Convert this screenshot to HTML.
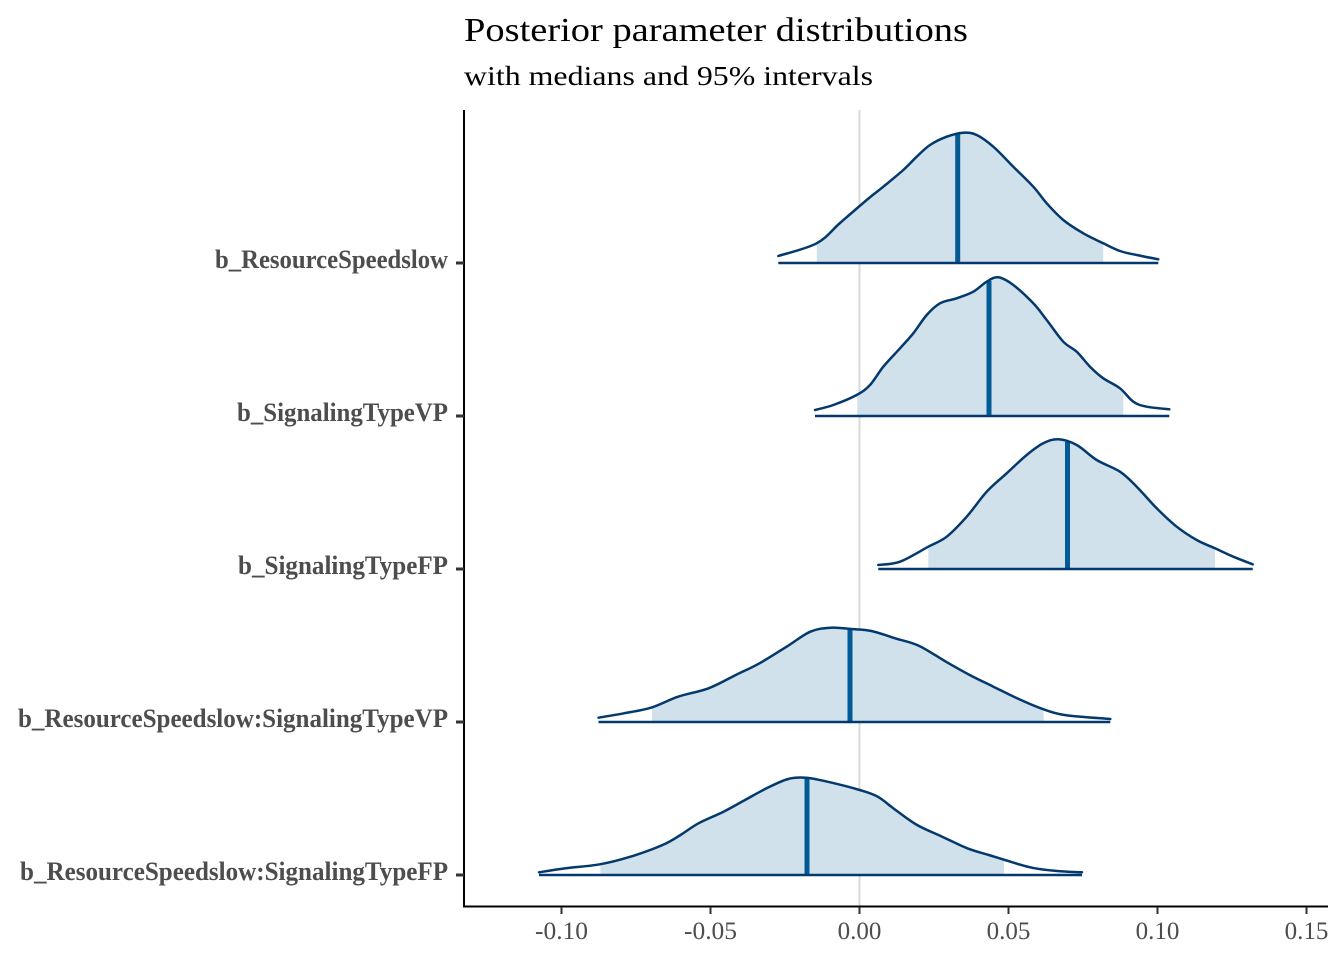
<!DOCTYPE html>
<html>
<head>
<meta charset="utf-8">
<style>
  html,body{margin:0;padding:0;background:#fff;}
  svg{display:block;}
  text{font-family:"Liberation Serif","Times New Roman",serif;}
</style>
</head>
<body>
<svg id="chart" width="1344" height="960" viewBox="0 0 1344 960" xmlns="http://www.w3.org/2000/svg">
  <rect width="1344" height="960" fill="#fff"/>
  <defs>
    <clipPath id="c1"><rect x="816.7" y="100" width="286.6" height="170"/></clipPath>
    <clipPath id="c2"><rect x="857.3" y="260" width="266" height="160"/></clipPath>
    <clipPath id="c3"><rect x="928.3" y="420" width="286.7" height="155"/></clipPath>
    <clipPath id="c4"><rect x="652" y="600" width="391.6" height="125"/></clipPath>
    <clipPath id="c5"><rect x="600.5" y="760" width="403.5" height="118"/></clipPath>
  </defs>

  <!-- Title -->
  <text x="464" y="41" font-size="34" fill="#000" textLength="504" lengthAdjust="spacingAndGlyphs">Posterior parameter distributions</text>
  <text x="464" y="85" font-size="27" fill="#000" textLength="409" lengthAdjust="spacingAndGlyphs">with medians and 95% intervals</text>

  <!-- zero reference line -->
  <line x1="859.5" y1="110" x2="859.5" y2="906" stroke="#d9d9d9" stroke-width="2"/>

  <!-- Row 1 -->
  <polygon class="densfill" clip-path="url(#c1)" fill="#d1e1ec" points="778.3,263 778.3,256 816.7,243.3 840,223 866.7,200 883.3,186.7 903.3,170 916.7,156.7 930,145 946.7,136.7 963.3,132.7 976.7,135 993.3,146.7 1013.3,166.7 1033.3,186.7 1046.7,203.3 1063.3,220 1083.3,233.3 1103.3,243.3 1120,251 1136.7,255 1158.3,259.3 1158.3,263"/>
  <line x1="957.7" y1="263" x2="957.7" y2="134" stroke="#005b96" stroke-width="5"/>
  <polyline class="dens" fill="none" stroke="#03396c" stroke-width="2.5" stroke-linejoin="round" stroke-linecap="round" points="778.3,256 816.7,243.3 840,223 866.7,200 883.3,186.7 903.3,170 916.7,156.7 930,145 946.7,136.7 963.3,132.7 976.7,135 993.3,146.7 1013.3,166.7 1033.3,186.7 1046.7,203.3 1063.3,220 1083.3,233.3 1103.3,243.3 1120,251 1136.7,255 1158.3,259.3"/>
  <line x1="778.3" y1="263" x2="1158.3" y2="263" stroke="#03396c" stroke-width="2.5"/>

  <!-- Row 2 -->
  <polygon class="densfill" clip-path="url(#c2)" fill="#d1e1ec" points="815,416 815,410 833.3,405 856.7,395 870,385 883.3,366.7 900,348.3 913.3,333.3 926.7,315 940,303.3 956.7,298.3 973.3,291.7 986.7,281.7 998.3,277.3 1013.3,285 1033.3,303.3 1046.7,320 1063.3,341.7 1076.7,351.7 1090,366.7 1103.3,378.3 1120,388.3 1133.3,401.7 1146.7,406.7 1169.3,409.3 1169.3,416"/>
  <line x1="989" y1="416" x2="989" y2="281" stroke="#005b96" stroke-width="5"/>
  <polyline class="dens" fill="none" stroke="#03396c" stroke-width="2.5" stroke-linejoin="round" stroke-linecap="round" points="815,410 833.3,405 856.7,395 870,385 883.3,366.7 900,348.3 913.3,333.3 926.7,315 940,303.3 956.7,298.3 973.3,291.7 986.7,281.7 998.3,277.3 1013.3,285 1033.3,303.3 1046.7,320 1063.3,341.7 1076.7,351.7 1090,366.7 1103.3,378.3 1120,388.3 1133.3,401.7 1146.7,406.7 1169.3,409.3"/>
  <line x1="815" y1="416" x2="1169.3" y2="416" stroke="#03396c" stroke-width="2.5"/>

  <!-- Row 3 -->
  <polygon class="densfill" clip-path="url(#c3)" fill="#d1e1ec" points="878.3,569 878.3,565 900,561.7 928.3,546.7 946.7,536.7 966.7,516.7 986.7,491.7 1006.7,473.3 1026.7,455 1043.3,443.3 1058.3,439.3 1076.7,445 1096.7,460 1120,471.7 1136.7,486.7 1156.7,508.3 1176.7,526.7 1196.7,540 1215,548.3 1233.3,556.7 1252.7,564.3 1252.7,569"/>
  <line x1="1067.5" y1="569" x2="1067.5" y2="442" stroke="#005b96" stroke-width="5"/>
  <polyline class="dens" fill="none" stroke="#03396c" stroke-width="2.5" stroke-linejoin="round" stroke-linecap="round" points="878.3,565 900,561.7 928.3,546.7 946.7,536.7 966.7,516.7 986.7,491.7 1006.7,473.3 1026.7,455 1043.3,443.3 1058.3,439.3 1076.7,445 1096.7,460 1120,471.7 1136.7,486.7 1156.7,508.3 1176.7,526.7 1196.7,540 1215,548.3 1233.3,556.7 1252.7,564.3"/>
  <line x1="878.3" y1="569" x2="1252.7" y2="569" stroke="#03396c" stroke-width="2.5"/>

  <!-- Row 4 -->
  <polygon class="densfill" clip-path="url(#c4)" fill="#d1e1ec" points="598.5,722 598.5,717.7 623.9,713.3 651,707.7 678.1,696.7 708.6,688.3 735.8,675 759.5,663.3 786.6,646.7 810.3,631.7 830.7,627.7 851,629 871.4,631 895.1,638.3 918.8,645.7 945.9,661.7 969.7,675 993.4,686.7 1017.1,698.3 1040.8,708.3 1064.6,715 1110.3,719 1110.3,722"/>
  <line x1="850" y1="722" x2="850" y2="629" stroke="#005b96" stroke-width="5"/>
  <polyline class="dens" fill="none" stroke="#03396c" stroke-width="2.5" stroke-linejoin="round" stroke-linecap="round" points="598.5,717.7 623.9,713.3 651,707.7 678.1,696.7 708.6,688.3 735.8,675 759.5,663.3 786.6,646.7 810.3,631.7 830.7,627.7 851,629 871.4,631 895.1,638.3 918.8,645.7 945.9,661.7 969.7,675 993.4,686.7 1017.1,698.3 1040.8,708.3 1064.6,715 1110.3,719"/>
  <line x1="598.5" y1="722" x2="1110.3" y2="722" stroke="#03396c" stroke-width="2.5"/>

  <!-- Row 5 -->
  <polygon class="densfill" clip-path="url(#c5)" fill="#d1e1ec" points="539,875 539,872.3 565.8,868.3 599.9,864.3 630.4,856.7 662.6,845 680.5,835 698.5,823.3 723.5,811.7 745,800 766.6,788.3 788.1,779 806,777.7 827.5,781.7 859.7,790 877.7,796.7 895.6,810 917.1,825 942.2,836.7 967.3,848.3 988.8,855 1004.9,860 1031.8,867.7 1056.9,871 1082,872.3 1082,875"/>
  <line x1="807" y1="875" x2="807" y2="778" stroke="#005b96" stroke-width="5"/>
  <polyline class="dens" fill="none" stroke="#03396c" stroke-width="2.5" stroke-linejoin="round" stroke-linecap="round" points="539,872.3 565.8,868.3 599.9,864.3 630.4,856.7 662.6,845 680.5,835 698.5,823.3 723.5,811.7 745,800 766.6,788.3 788.1,779 806,777.7 827.5,781.7 859.7,790 877.7,796.7 895.6,810 917.1,825 942.2,836.7 967.3,848.3 988.8,855 1004.9,860 1031.8,867.7 1056.9,871 1082,872.3"/>
  <line x1="539" y1="875" x2="1082" y2="875" stroke="#03396c" stroke-width="2.5"/>

  <!-- Axes -->
  <line x1="464" y1="110" x2="464" y2="907" stroke="#000" stroke-width="2"/>
  <line x1="463" y1="906.5" x2="1328" y2="906.5" stroke="#000" stroke-width="2"/>

  <!-- Y ticks -->
  <g stroke="#333" stroke-width="3">
    <line x1="456" y1="263" x2="464" y2="263"/>
    <line x1="456" y1="416" x2="464" y2="416"/>
    <line x1="456" y1="569" x2="464" y2="569"/>
    <line x1="456" y1="722" x2="464" y2="722"/>
    <line x1="456" y1="875" x2="464" y2="875"/>
  </g>

  <!-- Y labels -->
  <g font-size="26" font-weight="bold" fill="#4d4d4d" text-anchor="end">
    <text x="448" y="268" textLength="233" lengthAdjust="spacingAndGlyphs">b_ResourceSpeedslow</text>
    <text x="448" y="421" textLength="211" lengthAdjust="spacingAndGlyphs">b_SignalingTypeVP</text>
    <text x="448" y="574" textLength="210" lengthAdjust="spacingAndGlyphs">b_SignalingTypeFP</text>
    <text x="448" y="727" textLength="430" lengthAdjust="spacingAndGlyphs">b_ResourceSpeedslow:SignalingTypeVP</text>
    <text x="448" y="880" textLength="428" lengthAdjust="spacingAndGlyphs">b_ResourceSpeedslow:SignalingTypeFP</text>
  </g>

  <!-- X ticks -->
  <g stroke="#333" stroke-width="2">
    <line x1="561.5" y1="907" x2="561.5" y2="914"/>
    <line x1="710.5" y1="907" x2="710.5" y2="914"/>
    <line x1="859.5" y1="907" x2="859.5" y2="914"/>
    <line x1="1008.5" y1="907" x2="1008.5" y2="914"/>
    <line x1="1157.5" y1="907" x2="1157.5" y2="914"/>
    <line x1="1306.5" y1="907" x2="1306.5" y2="914"/>
  </g>
  <g font-size="25" fill="#4d4d4d" text-anchor="middle">
    <text x="561.5" y="939" textLength="53" lengthAdjust="spacingAndGlyphs">-0.10</text>
    <text x="710.5" y="939" textLength="53" lengthAdjust="spacingAndGlyphs">-0.05</text>
    <text x="859.5" y="939">0.00</text>
    <text x="1008.5" y="939">0.05</text>
    <text x="1157.5" y="939">0.10</text>
    <text x="1306.5" y="939">0.15</text>
  </g>
</svg>
<script>
(function(){
  var NS="http://www.w3.org/2000/svg";
  function parse(s){return s.trim().split(/\s+/).map(function(p){var a=p.split(",");return [parseFloat(a[0]),parseFloat(a[1])];});}
  function cr(pts){
    var d="";
    for(var i=0;i<pts.length-1;i++){
      var p0=pts[i-1]||pts[i],p1=pts[i],p2=pts[i+1],p3=pts[i+2]||pts[i+1];
      var c1x=p1[0]+(p2[0]-p0[0])/6,c1y=p1[1]+(p2[1]-p0[1])/6;
      var c2x=p2[0]-(p3[0]-p1[0])/6,c2y=p2[1]-(p3[1]-p1[1])/6;
      d+=" C"+c1x.toFixed(2)+","+c1y.toFixed(2)+" "+c2x.toFixed(2)+","+c2y.toFixed(2)+" "+p2[0]+","+p2[1];
    }
    return d;
  }
  try{
    var pl=document.querySelectorAll("polyline.dens");
    for(var i=0;i<pl.length;i++){
      var e=pl[i],pts=parse(e.getAttribute("points"));
      var p=document.createElementNS(NS,"path");
      p.setAttribute("d","M"+pts[0][0]+","+pts[0][1]+cr(pts));
      ["fill","stroke","stroke-width","stroke-linejoin","stroke-linecap"].forEach(function(a){p.setAttribute(a,e.getAttribute(a));});
      e.parentNode.replaceChild(p,e);
    }
    var pg=document.querySelectorAll("polygon.densfill");
    for(var j=0;j<pg.length;j++){
      var g=pg[j],all=parse(g.getAttribute("points"));
      var first=all[0],last=all[all.length-1],mid=all.slice(1,all.length-1);
      var q=document.createElementNS(NS,"path");
      q.setAttribute("d","M"+first[0]+","+first[1]+" L"+mid[0][0]+","+mid[0][1]+cr(mid)+" L"+last[0]+","+last[1]+" Z");
      q.setAttribute("fill",g.getAttribute("fill"));
      q.setAttribute("clip-path",g.getAttribute("clip-path"));
      g.parentNode.replaceChild(q,g);
    }
  }catch(err){}
})();
</script>
</body>
</html>
